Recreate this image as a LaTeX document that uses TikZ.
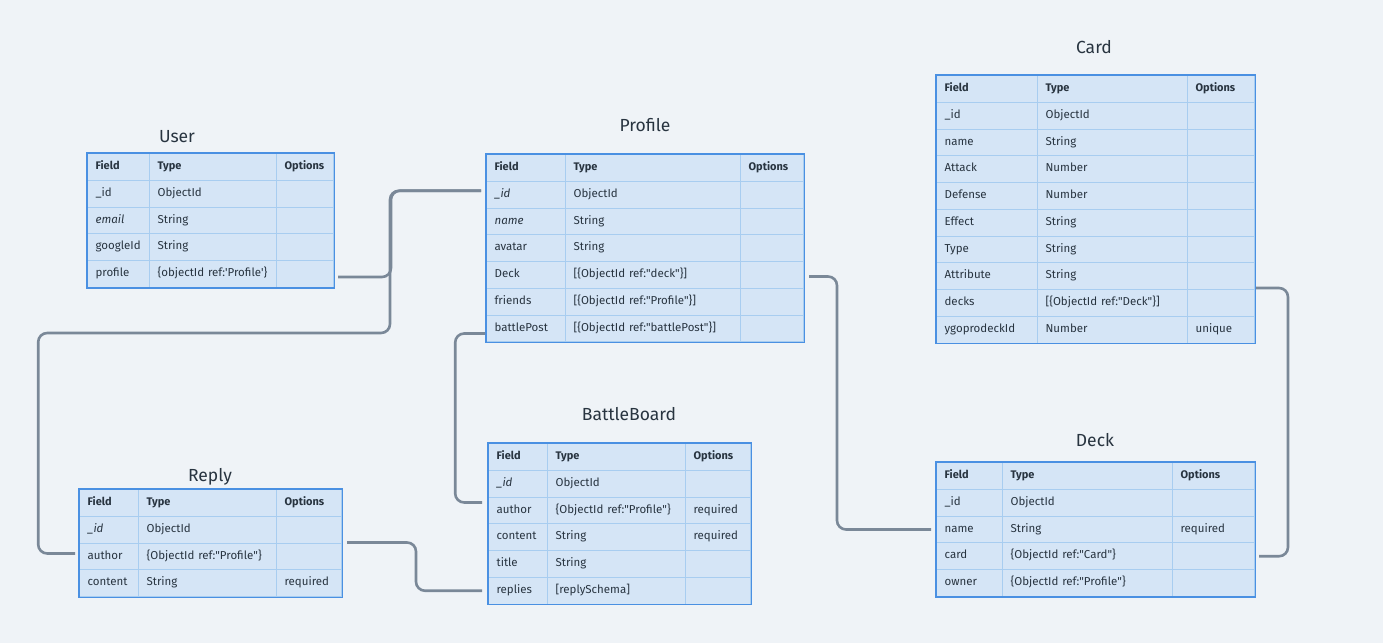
\documentclass[tikz,border=0pt]{standalone}
\usepackage{fontspec}
\setmainfont{Fira Sans}
\usepackage{tikz}
\usetikzlibrary{matrix,positioning}
\definecolor{dfbg}{RGB}{239,243,247}
\definecolor{dfcell}{RGB}{213,229,246}
\definecolor{dfblue}{RGB}{74,144,226}
\definecolor{dfgrid}{RGB}{168,205,240}
\definecolor{dfgray}{RGB}{122,136,152}
\definecolor{dftext}{RGB}{40,52,64}
\tikzstyle{cell} = [draw=dfgrid, fill=dfcell, line width=0.8pt, minimum height=26.75pt, inner xsep=8pt, inner ysep=0pt, text height=8pt, text depth=2.5pt, align=left, font=\fontsize{11.5}{13}\selectfont, text=dftext]
\tikzstyle{dbtable} = [matrix of nodes, nodes in empty cells, nodes={cell}, row sep=-0.8pt, column sep=-0.8pt, inner sep=0pt, anchor=north west, row 1/.style={nodes={font=\fontsize{11}{13}\selectfont\bfseries}}]
\tikzstyle{border} = [draw=dfblue, line width=1.2pt]
\tikzstyle{title} = [font=\fontsize{17.5}{20}\selectfont, text=dftext]
\tikzstyle{link} = [draw=dfgray, line width=2.6pt, rounded corners=9pt]
\tikzset{colw/.style n args={3}{column 1/.style={nodes={text width=#1}}, column 2/.style={nodes={text width=#2}}, column 3/.style={nodes={text width=#3}}}}
\newcommand{\qq}{\textquotedbl}

\begin{document}
\begin{tikzpicture}[x=1pt, y=-1pt]
\path[use as bounding box, fill=dfbg] (0,0) rectangle (1383,643);

% Tables
\matrix (user) [dbtable, colw={46pt}{111pt}{41pt}] at (87,153) {
Field & Type & Options \\
\_id & ObjectId & \\
\textit{email} & String & \\
googleId & String & \\
profile & \{objectId ref:\textquotesingle Profile\textquotesingle\} & \\
};

\matrix (profile) [dbtable, colw={63pt}{159pt}{47pt}] at (486,154) {
Field & Type & Options \\
\textit{\_id} & ObjectId & \\
\textit{name} & String & \\
avatar & String & \\
Deck & {[}\{ObjectId ref:\qq deck\qq\}{]} & \\
friends & {[}\{ObjectId ref:\qq Profile\qq\}{]} & \\
battlePost & {[}\{ObjectId ref:\qq battlePost\qq\}{]} & \\
};

\matrix (card) [dbtable, colw={85pt}{134pt}{51pt}] at (936,75) {
Field & Type & Options \\
\_id & ObjectId & \\
name & String & \\
Attack & Number & \\
Defense & Number & \\
Effect & String & \\
Type & String & \\
Attribute & String & \\
decks & {[}\{ObjectId ref:\qq Deck\qq\}{]} & \\
ygoprodeckId & Number & unique \\
};

\matrix (deck) [dbtable, colw={50pt}{154pt}{66pt}] at (936,462) {
Field & Type & Options \\
\_id & ObjectId & \\
name & String & required \\
card & \{ObjectId ref:\qq Card\qq\} & \\
owner & \{ObjectId ref:\qq Profile\qq\} & \\
};

\matrix (reply) [dbtable, colw={43pt}{122pt}{49pt}] at (79,489) {
Field & Type & Options \\
\textit{\_id} & ObjectId & \\
author & \{ObjectId ref:\qq Profile\qq\} & \\
content & String & required \\
};

\matrix (battle) [dbtable, colw={43pt}{122pt}{49pt}] at (488,443) {
Field & Type & Options \\
\textit{\_id} & ObjectId & \\
author & \{ObjectId ref:\qq Profile\qq\} & required \\
content & String & required \\
title & String & \\
replies & {[}replySchema{]} & \\
};

\foreach \t in {user,profile,card,deck,reply,battle}
  \draw[border] (\t.north west) rectangle (\t.south east);

% Titles
\node[title] (usertitle) at (177,137) {User};
\node[title] (profiletitle) at (645,125) {Profile};
\node[title] (cardtitle) at (1094,47) {Card};
\node[title] (decktitle) at (1095,440) {Deck};
\node[title] (replytitle) at (210,477) {Reply};
\node[title] (battletitle) at (629,414) {BattleBoard};

% Links
\coordinate (hub) at (390,333);
\draw[link] ([xshift=4pt,yshift=-3pt]user-5-3.east) -- ++(53,0) |- ([xshift=-5pt,yshift=4pt]profile-2-1.west);
\draw[link] ([xshift=-4pt,yshift=3pt]reply-3-1.west) -- ++(-37,0) |- (hub) |- ([xshift=-5pt,yshift=4pt]profile-2-1.west);
\draw[link] ([xshift=-1pt,yshift=-5pt]profile-7-1.west) -- ++(-30,0) |- ([xshift=-6pt,yshift=8pt]battle-3-1.west);
\draw[link] ([xshift=5pt,yshift=-1.5pt]profile-5-3.east) -- ++(28,0) |- ([xshift=-5pt]deck-3-1.west);
\draw[link] ([xshift=1pt,yshift=15pt]card-9-3.east) -- ++(32,0) |- ([xshift=4pt]deck-4-3.east);
\draw[link] ([xshift=5pt,yshift=14pt]reply-3-3.east) -- ++(69,0) |- ([xshift=-6pt]battle-6-1.west);
\end{tikzpicture}
\end{document}
